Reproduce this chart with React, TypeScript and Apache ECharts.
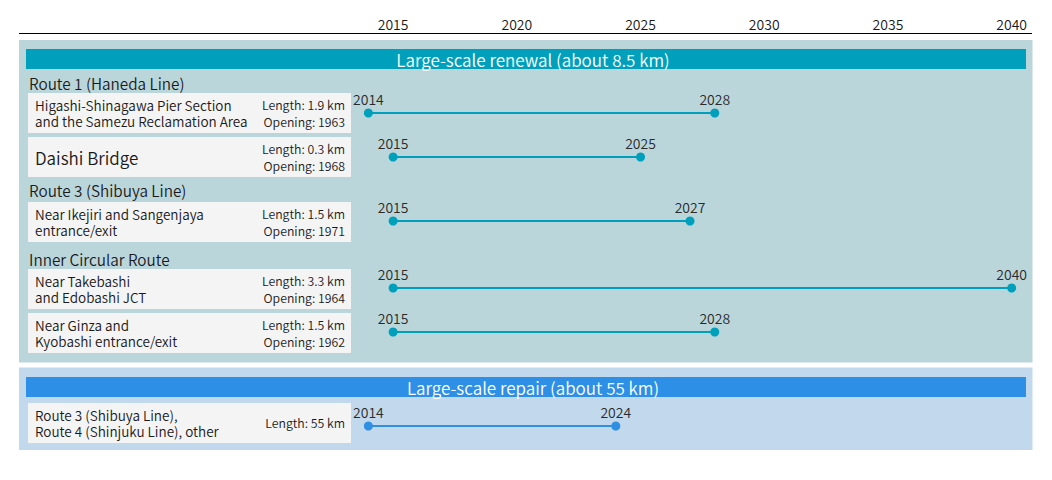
import React, { useEffect, useRef } from "react";
import * as echarts from "echarts";

// ---------- data ----------
const tickYears = [2015, 2020, 2025, 2030, 2035, 2040];
const sectionTitles = ["Large-scale renewal (about 8.5 km)", "Large-scale repair (about 55 km)"];
const routeHeadings = ["Route 1 (Haneda Line)", "Route 3 (Shibuya Line)", "Inner Circular Route"];
const rowNames = [
  "Higashi-Shinagawa Pier Section\nand the Samezu Reclamation Area",
  "Daishi Bridge",
  "Near Ikejiri and Sangenjaya\nentrance/exit",
  "Near Takebashi\nand Edobashi JCT",
  "Near Ginza and\nKyobashi entrance/exit",
  "Route 3 (Shibuya Line),\nRoute 4 (Shinjuku Line), other",
];
const rowLengths = ["1.9 km", "0.3 km", "1.5 km", "3.3 km", "1.5 km", "55 km"];
const rowOpenings = ["1963", "1968", "1971", "1964", "1962", ""];
const startYears = [2014, 2015, 2015, 2015, 2015, 2014];
const endYears = [2028, 2025, 2027, 2040, 2028, 2024];
const rowSection = [0, 0, 0, 0, 0, 1];

// ---------- layout & style ----------
const FONT = "'Noto Sans CJK JP', 'Source Sans Pro', 'Noto Sans', sans-serif";
const W = 350;
const AX_MIN = 2000;
const AX_MAX = 2041;
const GRID_LEFT = 22;
const GRID_RIGHT = 15.6;
const AXIS_Y = 33;
const rowTops = [93, 137, 202, 269, 313, 403];
const rowH = 40;
const lineOffsets = [20, 20, 19, 19, 19, 23];
const rowNameSizes = [13.5, 17, 13.5, 13.5, 13.5, 13.5];
const headingYs = [82.5, 190, 259];
const sections = [
  { top: 40, bottom: 362.5, bandTop: 49, bg: "#bbd6db", band: "#00a0bd", line: "#00a0bd" },
  { top: 367.5, bottom: 450, bandTop: 377, bg: "#c2d9ed", band: "#2d8fe6", line: "#2f8fe3" },
];
const TEXT = "#1a1a1a";

export default function App() {
  const ref = useRef<HTMLDivElement>(null);
  useEffect(() => {
    if (!ref.current) return;
    const chart = echarts.init(ref.current, null, { renderer: "svg" });

    const grids: any[] = [
      { left: GRID_LEFT, right: GRID_RIGHT, top: AXIS_Y, height: 417 },
    ];
    const xAxes: any[] = [
      {
        type: "value",
        gridIndex: 0,
        position: "top",
        min: AX_MIN,
        max: AX_MAX,
        interval: 5,
        axisLine: { show: false },
        axisTick: { show: false },
        splitLine: { show: false },
        axisLabel: {
          margin: 2,
          fontSize: 14,
          fontWeight: W,
          color: TEXT,
          fontFamily: FONT,
          formatter: (v: number) => (tickYears.indexOf(v) >= 0 ? String(v) : ""),
        },
      },
    ];
    const yAxes: any[] = [{ type: "value", gridIndex: 0, show: false }];
    const series: any[] = [];

    rowNames.forEach((name, i) => {
      const cy = rowTops[i] + lineOffsets[i];
      grids.push({ left: GRID_LEFT, right: GRID_RIGHT, top: cy - 10, height: 20 });
      xAxes.push({
        type: "value",
        gridIndex: i + 1,
        min: AX_MIN,
        max: AX_MAX,
        interval: 5,
        show: false,
      });
      yAxes.push({ type: "category", gridIndex: i + 1, data: [name], show: false });
      const color = sections[rowSection[i]].line;
      series.push({
        type: "line",
        xAxisIndex: i + 1,
        yAxisIndex: i + 1,
        data: [
          [startYears[i], name],
          [endYears[i], name],
        ],
        symbol: "circle",
        symbolSize: 9,
        itemStyle: { color },
        lineStyle: { color, width: 2 },
        label: {
          show: true,
          position: "top",
          distance: 3,
          fontSize: 14,
          fontWeight: W,
          color: "#2a2a2a",
          fontFamily: FONT,
          formatter: (p: any) => String(p.value[0]),
        },
        emphasis: { disabled: true },
      });
    });

    const graphics: any[] = [];
    sections.forEach((s, si) => {
      graphics.push({
        type: "rect",
        shape: { x: 19, y: s.top, width: 1013.5, height: s.bottom - s.top },
        style: { fill: s.bg },
        z: -10,
      });
      graphics.push({
        type: "rect",
        shape: { x: 26, y: s.bandTop, width: 1000, height: 20 },
        style: { fill: s.band },
        z: -9,
      });
      graphics.push({
        type: "text",
        x: 533,
        y: s.bandTop + 10,
        style: {
          text: sectionTitles[si],
          fill: "#ffffff",
          fontSize: 17,
          fontWeight: W,
          fontFamily: FONT,
          align: "center",
          verticalAlign: "middle",
        },
        z: -8,
      });
    });
    routeHeadings.forEach((h, i) => {
      graphics.push({
        type: "text",
        x: 29,
        y: headingYs[i],
        style: { text: h, fill: TEXT, fontSize: 15.3, fontWeight: W, fontFamily: FONT, verticalAlign: "middle" },
        z: -8,
      });
    });
    rowNames.forEach((name, i) => {
      const top = rowTops[i];
      const cy = top + rowH / 2;
      graphics.push({
        type: "rect",
        shape: { x: 28, y: top, width: 323, height: rowH },
        style: { fill: "#f4f4f4" },
        z: -9,
      });
      graphics.push({
        type: "text",
        x: 35,
        y: cy,
        style: {
          text: name,
          fill: TEXT,
          fontSize: rowNameSizes[i],
          fontWeight: W,
          lineHeight: 16,
          fontFamily: FONT,
          verticalAlign: "middle",
        },
        z: -8,
      });
      const info = rowOpenings[i]
        ? "Length: " + rowLengths[i] + "\nOpening: " + rowOpenings[i]
        : "Length: " + rowLengths[i];
      graphics.push({
        type: "text",
        x: 345,
        y: cy,
        style: {
          text: info,
          fill: TEXT,
          fontSize: 12.3,
          fontWeight: W,
          lineHeight: 17,
          fontFamily: FONT,
          align: "right",
          verticalAlign: "middle",
        },
        z: -8,
      });
    });
    graphics.push({
      type: "line",
      shape: { x1: 19, y1: AXIS_Y + 0.5, x2: 1032, y2: AXIS_Y + 0.5 },
      style: { stroke: "#000", lineWidth: 1.2 },
    });

    chart.setOption({
      animation: false,
      textStyle: { fontFamily: FONT },
      grid: grids,
      xAxis: xAxes,
      yAxis: yAxes,
      series,
      graphic: graphics,
    });
    return () => chart.dispose();
  }, []);
  return (
    <div
      ref={ref}
      style={{ position: "fixed", left: 0, top: 0, width: 1052, height: 480, background: "#fff" }}
    />
  );
}
